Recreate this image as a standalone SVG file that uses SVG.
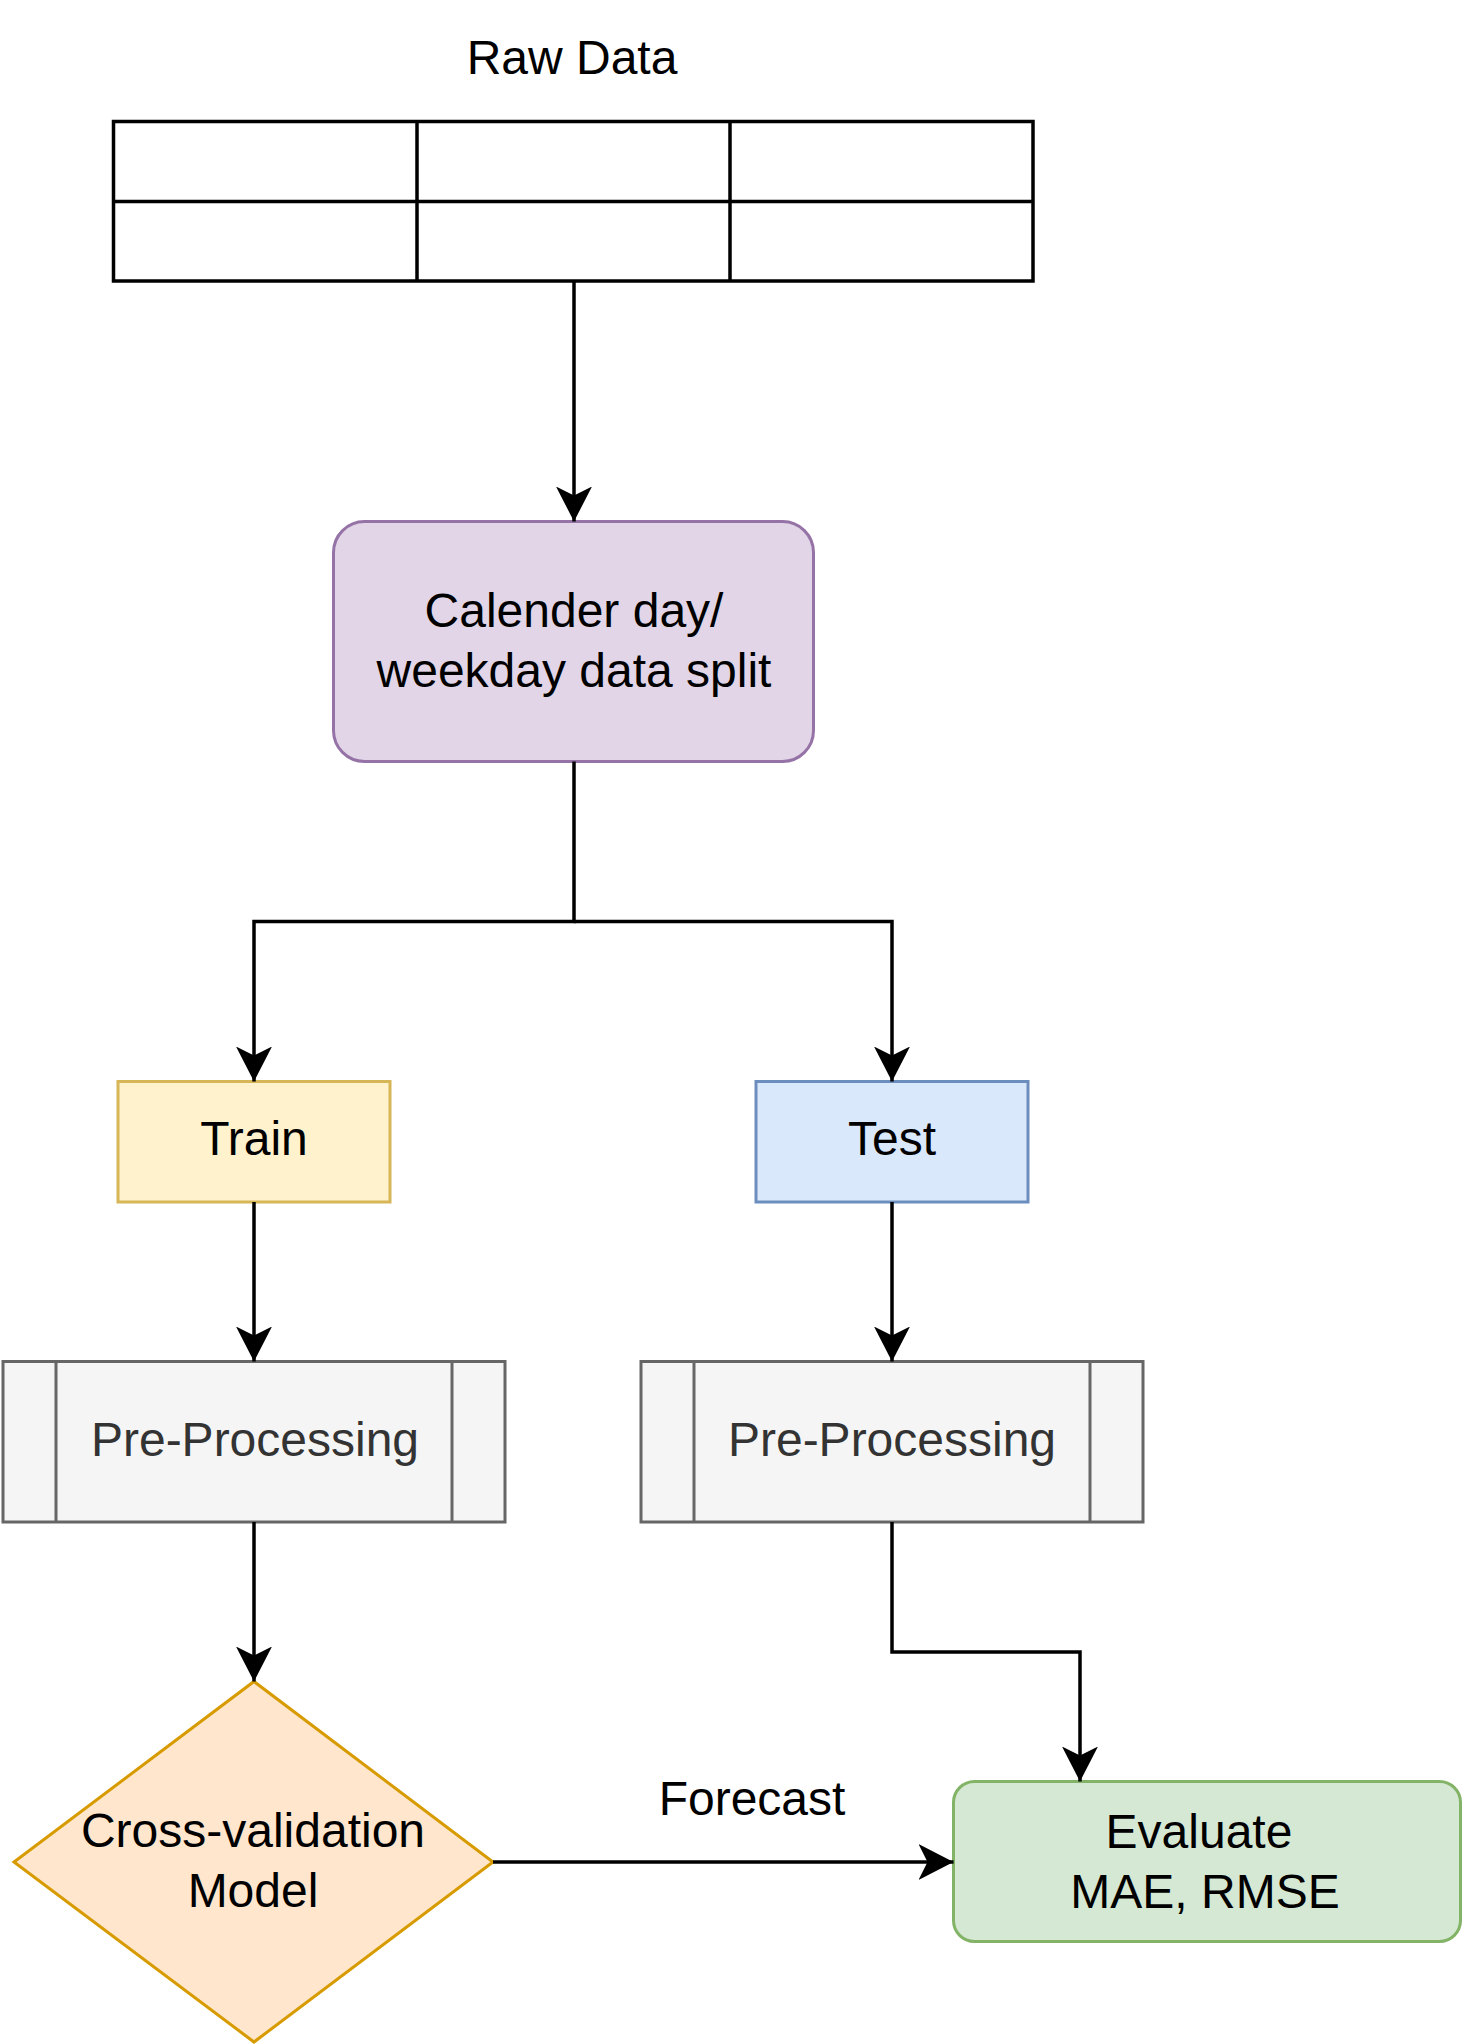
<svg xmlns="http://www.w3.org/2000/svg" width="1464" height="2044" viewBox="0 0 1464 2044">
<style>
text{font-family:"Liberation Sans",Arial,Helvetica,sans-serif;font-size:48px;fill:#000;text-anchor:middle}
.edge{fill:none;stroke:#000;stroke-width:3.5;marker-end:url(#arr)}
.pre text{fill:#333}
</style>
<defs>
<marker id="arr" markerUnits="userSpaceOnUse" viewBox="0 0 35 36" refX="35" refY="18" markerWidth="35" markerHeight="36" orient="auto">
<path d="M0,0 L35,18 L0,36 L9,18 Z" fill="#000"/>
</marker>
</defs>
<rect width="1464" height="2044" fill="#fff"/>
<g id="raw-data">
<text x="572" y="74">Raw Data</text>
<rect x="113.5" y="121.5" width="919.5" height="159.5" fill="#fff" stroke="#000" stroke-width="3.5"/>
<path d="M113.5,201.5 H1033 M417,121.5 V281 M730,121.5 V281" fill="none" stroke="#000" stroke-width="3.5"/>
</g>
<g id="split">
<rect x="333.5" y="521.5" width="480" height="240" rx="31" fill="#e1d5e7" stroke="#9673a6" stroke-width="3"/>
<text x="574" y="627">Calender day/</text>
<text x="574" y="687">weekday data split</text>
</g>
<g id="train">
<rect x="118" y="1081.5" width="272" height="120.5" fill="#fff2cc" stroke="#d6b656" stroke-width="3"/>
<text x="254" y="1155">Train</text>
</g>
<g id="test">
<rect x="756" y="1081.5" width="272" height="120.5" fill="#dae8fc" stroke="#6c8ebf" stroke-width="3"/>
<text x="892" y="1155">Test</text>
</g>
<g id="pre-train" class="pre">
<rect x="3" y="1361.5" width="502" height="160.5" fill="#f5f5f5" stroke="#666" stroke-width="3"/>
<path d="M56,1361.5 V1522 M452,1361.5 V1522" fill="none" stroke="#666" stroke-width="3"/>
<text x="255" y="1456">Pre-Processing</text>
</g>
<g id="pre-test" class="pre">
<rect x="641" y="1361.5" width="502" height="160.5" fill="#f5f5f5" stroke="#666" stroke-width="3"/>
<path d="M694,1361.5 V1522 M1090,1361.5 V1522" fill="none" stroke="#666" stroke-width="3"/>
<text x="892" y="1456">Pre-Processing</text>
</g>
<g id="model">
<polygon points="254,1681.5 493,1862 254,2042 14,1862" fill="#ffe6cc" stroke="#d79b00" stroke-width="3"/>
<text x="253" y="1847">Cross-validation</text>
<text x="253" y="1907">Model</text>
</g>
<g id="evaluate">
<rect x="953.5" y="1781.5" width="507" height="160" rx="21" fill="#d5e8d4" stroke="#82b366" stroke-width="3"/>
<text x="1199" y="1848">Evaluate</text>
<text x="1205" y="1908">MAE, RMSE</text>
</g>
<g id="connectors">
<path class="edge" d="M574,281 V521.5"/>
<path class="edge" d="M574,761.5 V921.5 H254 V1081.5"/>
<path class="edge" d="M574,921.5 H892 V1081.5"/>
<path class="edge" d="M254,1202 V1361.5"/>
<path class="edge" d="M892,1202 V1361.5"/>
<path class="edge" d="M254,1522 V1681.5"/>
<path class="edge" d="M892,1522 V1652 H1080 V1781.5"/>
<path class="edge" d="M493,1862 H953.5"/>
<text x="752" y="1815">Forecast</text>
</g>
</svg>
